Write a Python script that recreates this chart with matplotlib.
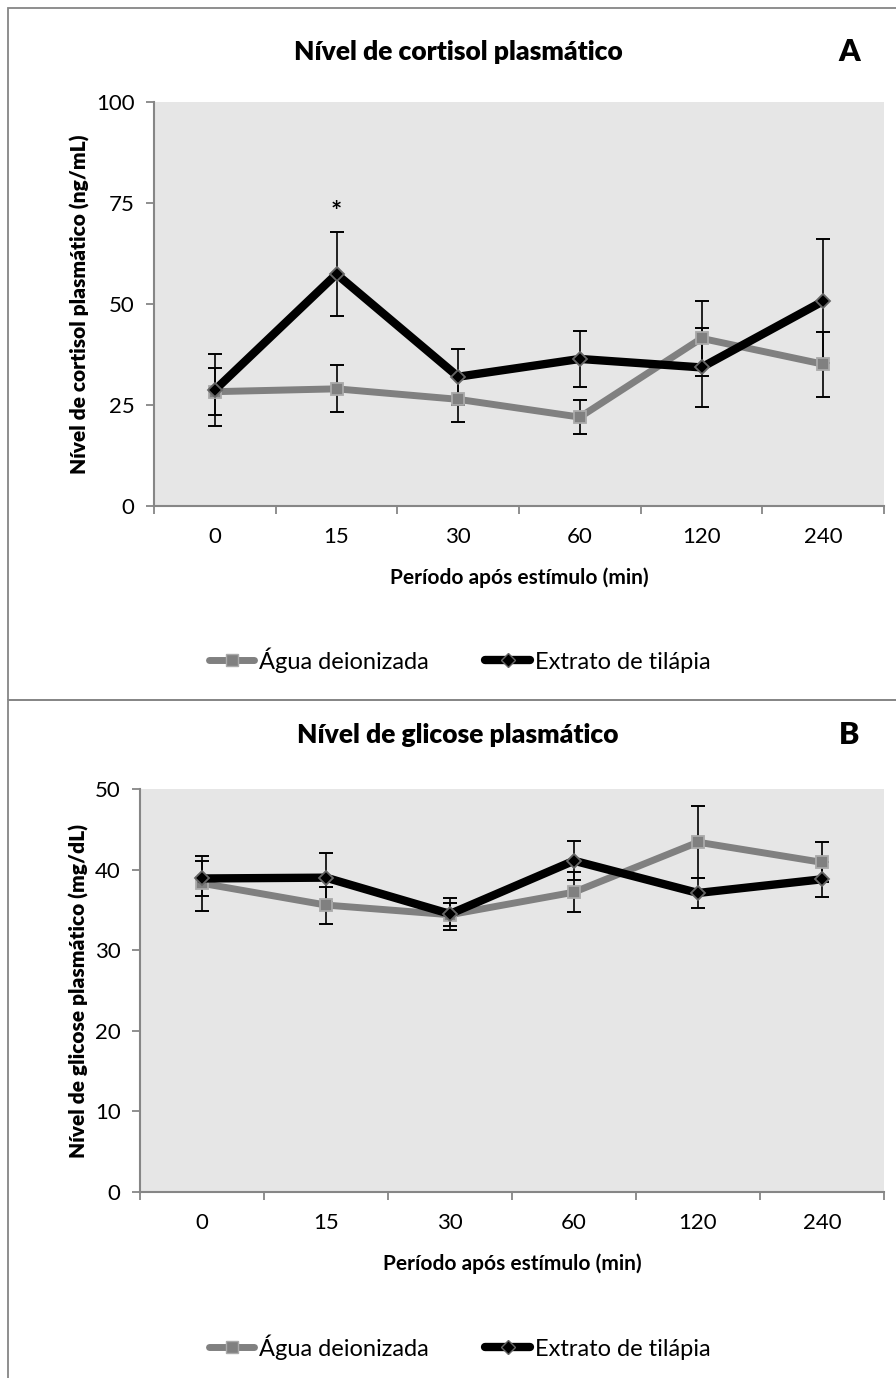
import numpy as np
import matplotlib.pyplot as plt
from matplotlib.lines import Line2D
from matplotlib.patches import Rectangle

############
# DONNÉES
############
periodos = ['0', '15', '30', '60', '120', '240']

# A : cortisol (ng/mL)
cort_agua = [28.3, 29.0, 26.4, 22.0, 41.5, 35.1]
cort_agua_err = [5.8, 5.8, 5.5, 4.3, 9.2, 8.0]
cort_extr = [28.7, 57.4, 32.0, 36.4, 34.3, 50.7]
cort_extr_err = [9.0, 10.4, 6.9, 7.0, 9.7, 15.3]

# B : glicose (mg/dL)
glic_agua = [38.3, 35.6, 34.4, 37.2, 43.4, 40.9]
glic_agua_err = [3.4, 2.3, 1.4, 2.5, 4.5, 2.5]
glic_extr = [38.9, 39.0, 34.5, 41.1, 37.1, 38.8]
glic_extr_err = [2.2, 3.0, 2.0, 2.4, 1.9, 2.2]

plt.rcParams['font.family'] = ['Lato', 'DejaVu Sans']

W, H = 896, 1378
fig = plt.figure(figsize=(W/100, H/100), dpi=100)

cinza = '#808080'
fundo = '#E6E6E6'
eixo = '#868686'


def painel(rect, agua, agua_err, extr, extr_err, ymax, ystep, titulo, letra,
           ylabel, y_tit, y_leg):
    ax = fig.add_axes(rect)
    ax.set_facecolor(fundo)
    x = np.arange(len(periodos))

    ax.errorbar(x, agua, yerr=agua_err, fmt='none', ecolor='black',
                elinewidth=1.2, capsize=5, capthick=1.4, zorder=2)
    ax.errorbar(x, extr, yerr=extr_err, fmt='none', ecolor='black',
                elinewidth=1.2, capsize=5, capthick=1.4, zorder=2)
    ax.plot(x, agua, color=cinza, lw=5.0, marker='s', ms=9,
            mfc=cinza, mec='#AAAAAA', mew=1.3, zorder=3)
    ax.plot(x, extr, color='black', lw=6.0, marker='D', ms=7,
            mfc='black', mec='#666666', mew=1.3, zorder=4)

    ax.set_xlim(-0.5, len(periodos) - 0.5)
    ax.set_ylim(0, ymax)
    ax.set_yticks(np.arange(0, ymax + 1, ystep))
    # ticks entre catégories, étiquettes au centre
    ax.set_xticks(np.arange(-0.5, len(periodos), 1))
    ax.set_xticklabels([])
    ax.set_xticks(x, minor=True)
    ax.set_xticklabels(periodos, minor=True)
    ax.tick_params(axis='x', which='major', length=6, color=eixo, width=1.3)
    ax.tick_params(axis='x', which='minor', length=0, pad=15, labelsize=16)
    ax.tick_params(axis='y', length=6, color=eixo, width=1.3, labelsize=16, pad=8)

    for s in ['top', 'right']:
        ax.spines[s].set_visible(False)
    for s in ['left', 'bottom']:
        ax.spines[s].set_color(eixo)
        ax.spines[s].set_linewidth(1.5)

    ax.set_xlabel('Período após estímulo (min)', fontsize=15, fontweight='bold', labelpad=15)
    ax.set_ylabel(ylabel, fontsize=15, fontweight='heavy', labelpad=4)

    fig.text(458/W, 1 - y_tit/H, titulo, fontsize=19, fontweight='heavy',
             ha='center', va='center')
    fig.text(849/W, 1 - y_tit/H, letra, fontsize=22, fontweight='heavy',
             ha='center', va='center')

    handles = [
        Line2D([], [], color=cinza, lw=5.0, marker='s', ms=9, mfc=cinza,
               mec='#AAAAAA', solid_capstyle='round'),
        Line2D([], [], color='black', lw=6.0, marker='D', ms=7, mfc='black',
               mec='#666666', solid_capstyle='round'),
    ]
    fig.legend(handles, ['Água deionizada', 'Extrato de tilápia'],
               loc='center', bbox_to_anchor=(460/W, 1 - y_leg/H), ncol=2,
               frameon=False, fontsize=17, handlelength=1.9, handletextpad=0.2,
               columnspacing=2.4)
    return ax


axA = painel([154/W, 1 - 506/H, 730/W, 404/H], cort_agua, cort_agua_err,
             cort_extr, cort_extr_err, 100, 25, 'Nível de cortisol plasmático', 'A',
             'Nível de cortisol plasmático (ng/mL)', 52, 660)
axA.text(1, 72.8, '*', ha='center', va='center', fontsize=19, fontweight='bold')

axB = painel([140/W, 1 - 1192/H, 744/W, 403/H], glic_agua, glic_agua_err,
             glic_extr, glic_extr_err, 50, 10, 'Nível de glicose plasmático', 'B',
             'Nível de glicose plasmático (mg/dL)', 735, 1347)

# cadres autour des deux graphiques
for y0, y1 in [(8, 700), (700, H + 5)]:
    fig.patches.append(Rectangle((8/W, 1 - y1/H), (W)/W, (y1 - y0)/H,
                                 transform=fig.transFigure, fill=False,
                                 edgecolor=eixo, lw=1.3))

fig.savefig('out.png', dpi=100)
